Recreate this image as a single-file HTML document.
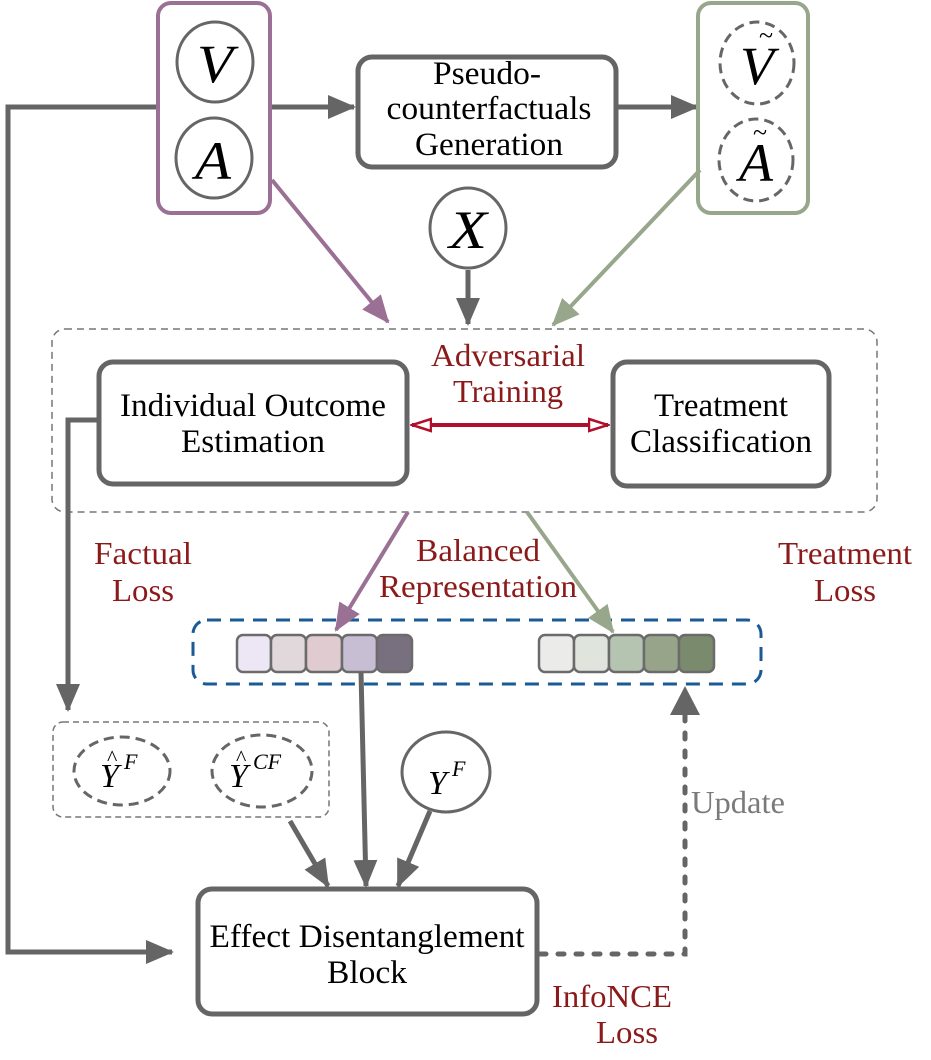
<!DOCTYPE html>
<html><head><meta charset="utf-8"><style>
html,body{margin:0;padding:0;background:#fff;}
svg{display:block;}
text{font-family:"Liberation Serif",serif;}
</style></head><body>
<svg width="931" height="1060" viewBox="0 0 931 1060" xmlns="http://www.w3.org/2000/svg">
<defs>
<marker id="agB" markerWidth="28" markerHeight="28" refX="26" refY="14" orient="auto" markerUnits="userSpaceOnUse"><path d="M0,2 L28,14 L0,26 z" fill="#656565"/></marker>
<marker id="apB" markerWidth="28" markerHeight="28" refX="26" refY="14" orient="auto" markerUnits="userSpaceOnUse"><path d="M0,2 L28,14 L0,26 z" fill="#9b7095"/></marker>
<marker id="agrB" markerWidth="28" markerHeight="28" refX="26" refY="14" orient="auto" markerUnits="userSpaceOnUse"><path d="M0,2 L28,14 L0,26 z" fill="#98a68c"/></marker>
<marker id="ar" markerWidth="22" markerHeight="16" refX="20" refY="8" orient="auto" markerUnits="userSpaceOnUse"><path d="M1,2 L20,8 L1,14 z" fill="#fff" stroke="#b0102a" stroke-width="2.5"/></marker>
</defs>

<polyline points="157,107 8,107 8,952 172,952" fill="none" stroke="#656565" stroke-width="5" marker-end="url(#agB)"/>
<line x1="270" y1="107" x2="354" y2="107" stroke="#656565" stroke-width="5" marker-end="url(#agB)"/>
<line x1="578" y1="107" x2="697" y2="107" stroke="#656565" stroke-width="5" marker-end="url(#agB)"/>

<rect x="158" y="3" width="112" height="210" rx="13" fill="#fff" stroke="#9b7095" stroke-width="4"/>
<ellipse cx="215" cy="62" rx="38" ry="40" fill="#fff" stroke="#666" stroke-width="3"/>
<ellipse cx="214" cy="158" rx="38" ry="40" fill="#fff" stroke="#666" stroke-width="3"/>
<text x="215" y="82" font-size="54" font-style="italic" text-anchor="middle" textLength="36" lengthAdjust="spacingAndGlyphs">V</text>
<text x="213" y="179" font-size="54" font-style="italic" text-anchor="middle" textLength="36" lengthAdjust="spacingAndGlyphs">A</text>

<rect x="358" y="57" width="258" height="110" rx="14" fill="#fff" stroke="#656565" stroke-width="5"/>
<text x="487" y="84" font-size="33" text-anchor="middle" textLength="108" lengthAdjust="spacingAndGlyphs">Pseudo-</text>
<text x="489" y="119" font-size="33" text-anchor="middle" textLength="205" lengthAdjust="spacingAndGlyphs">counterfactuals</text>
<text x="489" y="155" font-size="33" text-anchor="middle" textLength="148" lengthAdjust="spacingAndGlyphs">Generation</text>

<rect x="698" y="3" width="110" height="210" rx="13" fill="#fff" stroke="#98a68c" stroke-width="4"/>
<ellipse cx="757" cy="63" rx="37" ry="41" fill="none" stroke="#666" stroke-width="3" stroke-dasharray="10,6"/>
<ellipse cx="756" cy="160" rx="37" ry="41" fill="none" stroke="#666" stroke-width="3" stroke-dasharray="10,6"/>
<text x="757" y="84" font-size="54" font-style="italic" text-anchor="middle" textLength="34" lengthAdjust="spacingAndGlyphs">V</text>
<text x="766" y="44" font-size="26" text-anchor="middle">~</text>
<text x="756" y="181" font-size="54" font-style="italic" text-anchor="middle" textLength="34" lengthAdjust="spacingAndGlyphs">A</text>
<text x="760" y="141" font-size="26" text-anchor="middle">~</text>

<ellipse cx="468" cy="228" rx="38" ry="40" fill="#fff" stroke="#666" stroke-width="3"/>
<text x="468" y="248" font-size="54" font-style="italic" text-anchor="middle" textLength="38" lengthAdjust="spacingAndGlyphs">X</text>
<line x1="468" y1="270" x2="468" y2="324" stroke="#656565" stroke-width="5" marker-end="url(#agB)"/>

<line x1="272" y1="180" x2="388" y2="322" stroke="#9b7095" stroke-width="4" marker-end="url(#apB)"/>
<line x1="700" y1="170" x2="553" y2="325" stroke="#98a68c" stroke-width="4" marker-end="url(#agrB)"/>

<rect x="52" y="329" width="825" height="183" rx="13" fill="none" stroke="#777" stroke-width="1.5" stroke-dasharray="7,5"/>

<rect x="99" y="362" width="308" height="122" rx="14" fill="#fff" stroke="#656565" stroke-width="5"/>
<text x="253" y="416" font-size="33" text-anchor="middle" textLength="266" lengthAdjust="spacingAndGlyphs">Individual Outcome</text>
<text x="253" y="452" font-size="33" text-anchor="middle" textLength="144" lengthAdjust="spacingAndGlyphs">Estimation</text>

<rect x="613" y="362" width="216" height="124" rx="14" fill="#fff" stroke="#656565" stroke-width="5"/>
<text x="721" y="416" font-size="33" text-anchor="middle" textLength="134" lengthAdjust="spacingAndGlyphs">Treatment</text>
<text x="721" y="452" font-size="33" text-anchor="middle" textLength="182" lengthAdjust="spacingAndGlyphs">Classification</text>

<line x1="510" y1="425" x2="608" y2="425" stroke="#b0102a" stroke-width="4" marker-end="url(#ar)"/>
<line x1="510" y1="425" x2="412" y2="425" stroke="#b0102a" stroke-width="4" marker-end="url(#ar)"/>
<text x="508" y="366" font-size="32" fill="#8b1a1a" text-anchor="middle" textLength="154" lengthAdjust="spacingAndGlyphs">Adversarial</text>
<text x="508" y="402" font-size="32" fill="#8b1a1a" text-anchor="middle" textLength="110" lengthAdjust="spacingAndGlyphs">Training</text>

<polyline points="99,420 68,420 68,710" fill="none" stroke="#656565" stroke-width="5" marker-end="url(#agB)"/>
<text x="143" y="564" font-size="32" fill="#8b1a1a" text-anchor="middle" textLength="98" lengthAdjust="spacingAndGlyphs">Factual</text>
<text x="143" y="601" font-size="32" fill="#8b1a1a" text-anchor="middle" textLength="62" lengthAdjust="spacingAndGlyphs">Loss</text>
<text x="478" y="561" font-size="32" fill="#8b1a1a" text-anchor="middle" textLength="124" lengthAdjust="spacingAndGlyphs">Balanced</text>
<text x="478" y="597" font-size="32" fill="#8b1a1a" text-anchor="middle" textLength="198" lengthAdjust="spacingAndGlyphs">Representation</text>
<text x="845" y="564" font-size="32" fill="#8b1a1a" text-anchor="middle" textLength="134" lengthAdjust="spacingAndGlyphs">Treatment</text>
<text x="845" y="601" font-size="32" fill="#8b1a1a" text-anchor="middle" textLength="62" lengthAdjust="spacingAndGlyphs">Loss</text>

<rect x="193" y="620" width="568" height="64" rx="14" fill="none" stroke="#1a5a96" stroke-width="3" stroke-dasharray="14,9"/>
<g stroke="#6b6b6b" stroke-width="2.5">
<rect x="237" y="635" width="34" height="37" rx="6" fill="#ede6f5"/>
<rect x="271" y="635" width="35" height="37" rx="6" fill="#e0d8da"/>
<rect x="306" y="635" width="36" height="37" rx="6" fill="#e0ccd0"/>
<rect x="342" y="635" width="35" height="37" rx="6" fill="#c8bed3"/>
<rect x="377" y="635" width="35" height="37" rx="6" fill="#78707e"/>
<rect x="539" y="635" width="35" height="37" rx="6" fill="#ebecea"/>
<rect x="574" y="635" width="35" height="37" rx="6" fill="#dfe4dd"/>
<rect x="609" y="635" width="35" height="37" rx="6" fill="#b5c4b0"/>
<rect x="644" y="635" width="35" height="37" rx="6" fill="#97a48a"/>
<rect x="679" y="635" width="35" height="37" rx="6" fill="#7a8a6c"/>
</g>
<line x1="408" y1="512" x2="336" y2="630" stroke="#9b7095" stroke-width="4" marker-end="url(#apB)"/>
<line x1="527" y1="512" x2="613" y2="632" stroke="#98a68c" stroke-width="4" marker-end="url(#agrB)"/>

<line x1="361" y1="672" x2="366" y2="886" stroke="#656565" stroke-width="5" marker-end="url(#agB)"/>

<rect x="53" y="722" width="276" height="95" rx="10" fill="none" stroke="#777" stroke-width="1.5" stroke-dasharray="6,4"/>
<ellipse cx="122" cy="771" rx="48" ry="34" fill="none" stroke="#666" stroke-width="3" stroke-dasharray="10,6"/>
<ellipse cx="262" cy="771" rx="50" ry="36" fill="none" stroke="#666" stroke-width="3" stroke-dasharray="10,6"/>
<text x="100" y="787" font-size="34" font-style="italic">Y</text>
<text x="107" y="765" font-size="22">^</text>
<text x="124" y="769" font-size="22" font-style="italic">F</text>
<text x="229" y="787" font-size="34" font-style="italic">Y</text>
<text x="236" y="765" font-size="22">^</text>
<text x="253" y="769" font-size="22" font-style="italic">CF</text>

<ellipse cx="446" cy="772" rx="44" ry="40" fill="#fff" stroke="#666" stroke-width="3"/>
<text x="428" y="794" font-size="34" font-style="italic">Y</text>
<text x="452" y="776" font-size="22" font-style="italic">F</text>

<line x1="290" y1="821" x2="328" y2="886" stroke="#656565" stroke-width="5" marker-end="url(#agB)"/>
<line x1="430" y1="811" x2="398" y2="886" stroke="#656565" stroke-width="5" marker-end="url(#agB)"/>

<rect x="198" y="889" width="339" height="125" rx="14" fill="#fff" stroke="#656565" stroke-width="5"/>
<text x="367" y="947" font-size="33" text-anchor="middle" textLength="315" lengthAdjust="spacingAndGlyphs">Effect Disentanglement</text>
<text x="367" y="983" font-size="33" text-anchor="middle" textLength="80" lengthAdjust="spacingAndGlyphs">Block</text>

<polyline points="540,954 685,954 685,710" fill="none" stroke="#656565" stroke-width="5" stroke-dasharray="6,12" stroke-linecap="round"/>
<path d="M670,715 L685,686 L700,715 z" fill="#656565"/>
<text x="738" y="813" font-size="32" fill="#7a7a7a" text-anchor="middle" textLength="94" lengthAdjust="spacingAndGlyphs">Update</text>
<text x="612" y="1007" font-size="32" fill="#8b1a1a" text-anchor="middle" textLength="120" lengthAdjust="spacingAndGlyphs">InfoNCE</text>
<text x="627" y="1043" font-size="32" fill="#8b1a1a" text-anchor="middle" textLength="62" lengthAdjust="spacingAndGlyphs">Loss</text>
</svg>
</body></html>
